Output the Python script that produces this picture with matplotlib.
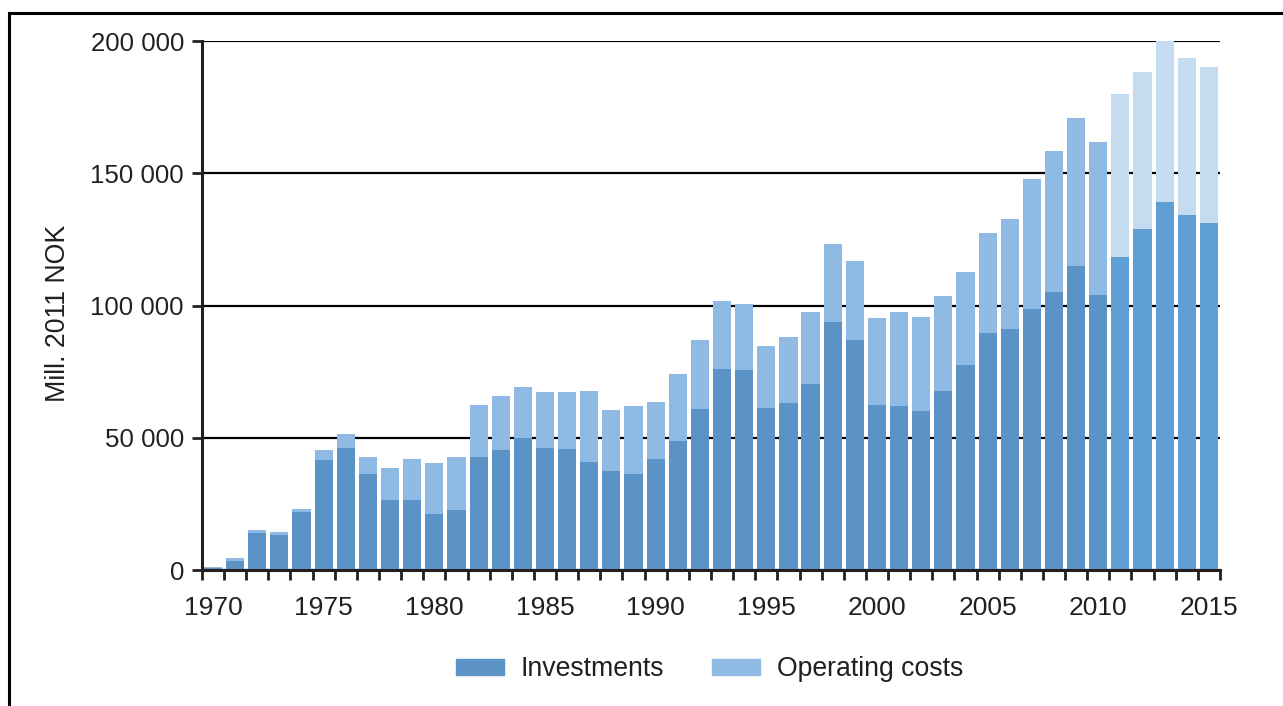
import matplotlib
matplotlib.use('Agg')
import matplotlib.pyplot as plt
import numpy as np
from matplotlib.lines import Line2D
from matplotlib.patches import Patch
from matplotlib.ticker import FuncFormatter

plt.rcParams['font.family'] = ['Liberation Sans', 'DejaVu Sans']

years = np.arange(1970, 2016)
first_forecast = 2011

# Mill. 2011 NOK
investments = [700, 3400, 14100, 13400, 21900, 41600, 46100, 36400, 26600, 26500,
               21300, 22800, 42700, 45400, 50000, 46200, 45700, 41000, 37300, 36300,
               42100, 48800, 60900, 76000, 75600, 61200, 63100, 70300, 93800, 87000,
               62400, 62000, 60100, 67700, 77500, 89600, 91000, 98600, 105100, 114800,
               103900, 118200, 128900, 139300, 134200, 131100]
operating = [500, 1100, 1000, 1000, 1100, 3800, 5300, 6300, 12000, 15500,
             19200, 19900, 19700, 20400, 19200, 21100, 21600, 26700, 23200, 25700,
             21400, 25300, 26100, 25700, 25000, 23500, 25000, 27200, 29400, 29800,
             32900, 35500, 35500, 35900, 35200, 37700, 41600, 49100, 53200, 56000,
             57900, 61700, 59300, 60700, 59300, 59100]

inv_col = '#5b93c6'
op_col = '#8fbae3'
inv_fc = '#5f9fd4'
op_fc = '#c4dbf0'
txt = '#231f20'

fig = plt.figure(figsize=(12.83, 7.06), dpi=100)
ax = fig.add_axes([0.1574, 0.1926, 0.7935, 0.7493])

x = np.arange(len(years))
fc = years >= first_forecast
c1 = [inv_fc if f else inv_col for f in fc]
c2 = [op_fc if f else op_col for f in fc]
ax.bar(x, investments, width=0.82, color=c1, zorder=3)
ax.bar(x, operating, width=0.82, bottom=investments, color=c2, zorder=3)

ax.set_xlim(-0.5, len(years) - 0.5)
ax.set_ylim(0, 200000)
ax.set_yticks(np.arange(0, 200001, 50000))
ax.yaxis.set_major_formatter(FuncFormatter(lambda v, p: f'{int(v):,}'.replace(',', ' ')))
ax.grid(axis='y', color='black', linewidth=1.6, zorder=1)

lab = [i for i, y in enumerate(years) if y % 5 == 0]
ax.set_xticks(lab)
ax.set_xticklabels([str(years[i]) for i in lab])
ax.set_xticks(np.arange(-0.5, len(years)), minor=True)
ax.tick_params(axis='x', which='major', length=0, pad=19, labelsize=19, labelcolor=txt)
ax.tick_params(axis='x', which='minor', length=7, width=2, color=txt, direction='out')
ax.tick_params(axis='y', length=7, width=2, color=txt, labelsize=18.6, labelcolor=txt, pad=6)

for s in ['top', 'right']:
    ax.spines[s].set_visible(False)
for s in ['left', 'bottom']:
    ax.spines[s].set_linewidth(2.2)
    ax.spines[s].set_color(txt)
    ax.spines[s].set_zorder(4)

ax.set_ylabel('Mill. 2011 NOK', fontsize=19.3, color=txt)
ax.yaxis.set_label_coords(-0.1287, 0.485)

handles = [Patch(color=inv_col, label='Investments'), Patch(color=op_col, label='Operating costs')]
fig.legend(handles=handles, loc='center', bbox_to_anchor=(0.553, 0.052), ncol=2,
           frameon=False, fontsize=19.2, handlelength=1.8, handleheight=0.52,
           handletextpad=0.64, columnspacing=1.8, labelcolor=txt)

# outer frame (left and top edges only)
fig.add_artist(Line2D([0.0068, 0.0068], [0, 0.982], color='black', linewidth=2.2))
fig.add_artist(Line2D([0.0068, 1.0], [0.982, 0.982], color='black', linewidth=2.2))

fig.savefig('out.png', dpi=100)
